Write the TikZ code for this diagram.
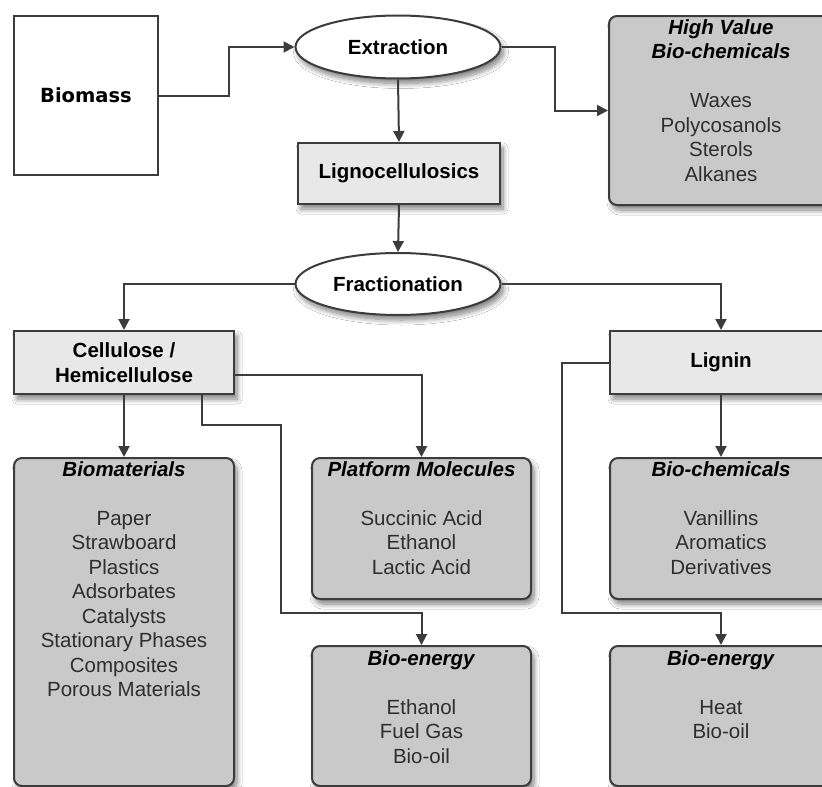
\documentclass[tikz,border=0pt]{standalone}
\usepackage{fontspec}
\setmainfont{Liberation Sans}
\newfontfamily\bioFont{DejaVu Sans}
\usetikzlibrary{shapes.geometric,arrows.meta,shadows.blur}
\definecolor{linec}{HTML}{3C3C3C}
\definecolor{lightfill}{HTML}{E8E8E8}
\definecolor{darkfill}{HTML}{C9C9C9}
\definecolor{itemc}{HTML}{2E2E2E}
\newcommand\bioTitle[1]{\textcolor{black}{\textbf{\textit{#1}}}}
\begin{document}
\begin{tikzpicture}[x=1pt,y=-1pt,
  font=\fontsize{20.5}{24.5}\selectfont,
  conn/.style={draw=linec,line width=2pt,-{Triangle[length=11pt,width=11pt]}},
  shade/.style={blur shadow={shadow xshift=3pt,shadow yshift=-5pt,shadow opacity=50,shadow blur steps=10,shadow blur radius=5pt}},
  plainbox/.style={draw=linec,line width=2pt,fill=white,inner sep=0pt},
  lightbox/.style={draw=linec,line width=2pt,fill=lightfill,inner sep=0pt,align=center,font=\fontsize{20.5}{24.5}\selectfont\bfseries,shade},
  darkbox/.style={draw=linec,line width=2pt,fill=darkfill,inner sep=0pt,rounded corners=8pt,shade},
  oval/.style={ellipse,draw=linec,line width=2pt,fill=white,inner sep=0pt,font=\fontsize{20.5}{24.5}\selectfont\bfseries,shade},
  listtext/.style={anchor=north,inner sep=0pt,align=center,text=itemc}]
\useasboundingbox (0,0) rectangle (822,787);
\fill[white] (0,0) rectangle (822,787);

% top row
\node[plainbox,minimum width=144pt,minimum height=159pt,anchor=north west] (biomass) at (13,15) {};
\node[font=\bioFont\fontsize{19.5}{22}\selectfont\bfseries] (biomasst) at (biomass.center) {Biomass};
\node[oval,minimum width=205pt,minimum height=63pt] (extr) at (398,47) {Extraction};
\node[darkbox,minimum width=224pt,minimum height=189pt,anchor=north west] (hv) at (608,15) {};
\node[listtext] (hvt) at ([yshift=-4pt]hv.north) {\bioTitle{High Value}\\\bioTitle{Bio-chemicals}\\[24.5pt]Waxes\\Polycosanols\\Sterols\\Alkanes};
\node[lightbox,minimum width=202pt,minimum height=61pt,anchor=north west] (ligno) at (297,142) {Lignocellulosics};
\node[oval,minimum width=205pt,minimum height=62pt] (frac) at (398,284) {Fractionation};

% second row
\node[lightbox,minimum width=220pt,minimum height=63pt,anchor=north west] (cell) at (13,330) {Cellulose /\\Hemicellulose};
\node[lightbox,minimum width=222pt,minimum height=63pt,anchor=north west] (lignin) at (609,330) {Lignin};

% result boxes
\node[darkbox,minimum width=220pt,minimum height=328pt,anchor=north west] (biomat) at (13,457) {};
\node[listtext] (biomatt) at ([yshift=-4pt]biomat.north) {\bioTitle{Biomaterials}\\[24.5pt]Paper\\Strawboard\\Plastics\\Adsorbates\\Catalysts\\Stationary Phases\\Composites\\Porous Materials};
\node[darkbox,minimum width=219pt,minimum height=141pt,anchor=north west] (platf) at (311,457) {};
\node[listtext] (platft) at ([yshift=-4pt]platf.north) {\bioTitle{Platform Molecules}\\[24.5pt]Succinic Acid\\Ethanol\\Lactic Acid};
\node[darkbox,minimum width=219pt,minimum height=140pt,anchor=north west] (bea) at (311,645) {};
\node[listtext] (beat) at ([yshift=-5pt]bea.north) {\bioTitle{Bio-energy}\\[24.5pt]Ethanol\\Fuel Gas\\Bio-oil};
\node[darkbox,minimum width=222pt,minimum height=141pt,anchor=north west] (bchem) at (609,457) {};
\node[listtext] (bchemt) at ([yshift=-4pt]bchem.north) {\bioTitle{Bio-chemicals}\\[24.5pt]Vanillins\\Aromatics\\Derivatives};
\node[darkbox,minimum width=222pt,minimum height=140pt,anchor=north west] (beb) at (609,645) {};
\node[listtext] (bebt) at ([yshift=-5pt]beb.north) {\bioTitle{Bio-energy}\\[24.5pt]Heat\\Bio-oil};

% connectors
\draw[conn] (biomass.east) -- ++(70,0) |- (extr.west);
\draw[conn] (extr.south) -- (ligno.north);
\draw[conn] (extr.east) -- ++(53,0) |- (hv.west);
\draw[conn] (ligno.south) -- (frac.north);
\draw[conn] (frac.west) -| (cell.north);
\draw[conn] (frac.east) -| (lignin.north);
\draw[conn] (cell.south) -- (biomat.north);
\draw[conn] ([yshift=-12pt]cell.east) -| (platf.north);
\draw[conn] ([xshift=78pt]cell.south) -- ++(0,30) -- ++(79,0) |- ([yshift=32pt]bea.north) -- (bea.north);
\draw[conn] (lignin.south) -- (bchem.north);
\draw[conn] (lignin.west) -- ++(-47,0) |- ([yshift=32pt]beb.north) -- (beb.north);
\end{tikzpicture}
\end{document}
